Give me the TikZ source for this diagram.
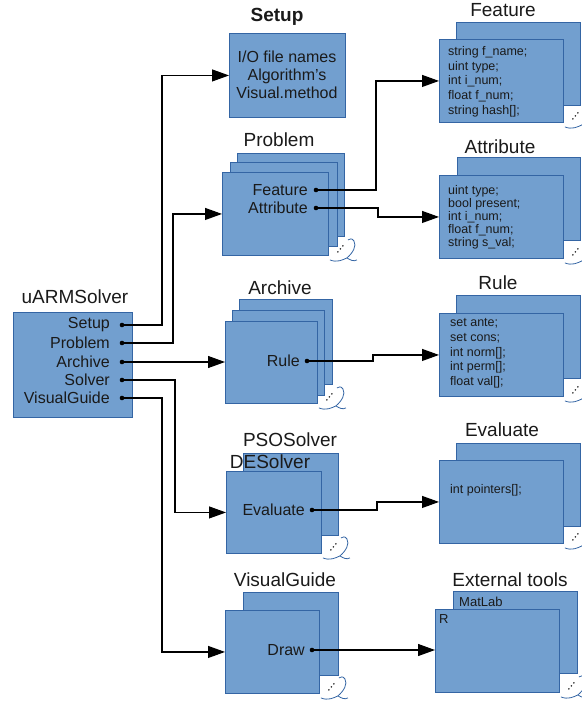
\documentclass[tikz,border=0pt]{standalone}
\usepackage{fontspec}
\setmainfont{Liberation Sans}
\usetikzlibrary{arrows.meta}
\definecolor{fillb}{HTML}{729FCF}
\definecolor{lineb}{HTML}{3465A4}
\definecolor{txt}{HTML}{1A1A1A}
\tikzset{
  box/.style={draw=lineb, fill=fillb, line width=0.9pt, inner sep=0pt, anchor=north west},
  ttl/.style={font=\fontsize{19}{22}\selectfont, text=txt, inner sep=0pt},
  lab/.style={font=\fontsize{16}{18}\selectfont, text=txt, anchor=east, inner sep=0pt},
  mid/.style={font=\fontsize{16}{18}\selectfont, text=txt, align=center, inner sep=0pt},
  small/.style={font=\fontsize{12.5}{14.7}\selectfont, text=txt, align=left, anchor=west, inner sep=0pt},
  smalltight/.style={font=\fontsize{12.5}{13}\selectfont, text=txt, align=left, anchor=west, inner sep=0pt},
  dotn/.style={circle, fill=black, inner sep=0pt, minimum size=4.6pt},
  conn/.style={line width=1.1pt, -{Triangle[length=17pt,width=12pt]}},
  curl/.pic={
    \fill[black!85] (9,-4) circle (0.9) (11.5,-7) circle (0.9) (14,-10) circle (0.9);
    \draw[lineb, line width=0.8pt] (1,4) .. controls (8,7) and (14,4) .. (18,2)
      .. controls (21,4) and (25,6) .. (28,4);
    \draw[lineb, line width=0.8pt] (18,2) .. controls (24,-3) and (28,-10) .. (25,-15)
      .. controls (23,-18) and (21,-17) .. (19,-16);
  }
}
\begin{document}
\begin{tikzpicture}[x=1pt,y=-1pt]
\useasboundingbox (0,0) rectangle (581,704);

% ---------- uARMSolver ----------
\node[ttl] (tMain) at (75,297) {uARMSolver};
\node[box, minimum width=119pt, minimum height=105pt] (mainB) at (13,312) {};
\node[dotn] (dSetup) at (122,325) {};
\node[dotn] (dProb) at (122,343) {};
\node[dotn] (dArch) at (122,362) {};
\node[dotn] (dSolv) at (122,380) {};
\node[dotn] (dVis) at (122,398) {};
\node[lab] (lSetup) at (110,325) {Setup};
\node[lab] (lProb) at (110,343) {Problem};
\node[lab] (lArch) at (110,362) {Archive};
\node[lab] (lSolv) at (110,380) {Solver};
\node[lab] (lVis) at (110,398) {VisualGuide};

% ---------- Setup ----------
\node[ttl, font=\fontsize{19}{22}\selectfont\bfseries] (tSetup) at (277,17) {Setup};
\node[box, minimum width=116pt, minimum height=84pt] (setupB) at (229,33) {};
\node[mid] (setupTxt) at (287,75) {I/O file names\\Algorithm's\\Visual.method};

% ---------- Problem ----------
\node[ttl] (tProb) at (279,140) {Problem};
\node[box, minimum width=107pt, minimum height=83pt] (probB) at (237,153) {};
\node[box, minimum width=107pt, minimum height=84pt] (probM) at (230,162) {};
\node[box, minimum width=106pt, minimum height=83pt] (probF) at (222,172) {};
\pic at (probF.south east) {curl};
\node[dotn] (dFeat) at (316,190) {};
\node[dotn] (dAttr) at (316,208) {};
\node[lab] (lFeat) at (308,190) {Feature};
\node[lab] (lAttr) at (308,208) {Attribute};

% ---------- Archive ----------
\node[ttl] (tArch) at (280,288) {Archive};
\node[box, minimum width=93pt, minimum height=85pt] (archB) at (239,299) {};
\node[box, minimum width=92pt, minimum height=85pt] (archM) at (232,310) {};
\node[box, minimum width=92pt, minimum height=82pt] (archF) at (225,321) {};
\pic at (archF.south east) {curl};
\node[dotn] (dRule) at (307,361) {};
\node[lab] (lRule) at (300,361) {Rule};

% ---------- Solvers ----------
\node[ttl] (tPSO) at (290,440) {PSOSolver};
\node[box, minimum width=95pt, minimum height=82pt] (solB) at (243,453) {};
\node[ttl] (tDE) at (270,462) {DESolver};
\node[box, minimum width=95pt, minimum height=82pt] (solF) at (226,471) {};
\pic at (solF.south east) {curl};
\node[dotn] (dEval) at (312,510) {};
\node[lab] (lEval) at (305,510) {Evaluate};

% ---------- VisualGuide ----------
\node[ttl] (tVis) at (285,580) {VisualGuide};
\node[box, minimum width=95pt, minimum height=83pt] (visB) at (243,592) {};
\node[box, minimum width=94pt, minimum height=83pt] (visF) at (225,610) {};
\pic at (visF.south east) {curl};
\node[dotn] (dDraw) at (312,650) {};
\node[lab] (lDraw) at (305,650) {Draw};

% ---------- Feature ----------
\node[ttl] (tFeat) at (503,10) {Feature};
\node[box, minimum width=124pt, minimum height=83pt] (featB) at (456,22) {};
\node[box, minimum width=124pt, minimum height=83pt] (featF) at (439,39) {};
\pic at (featF.south east) {curl};
\node[small] (featTxt) at (448,81.5) {string f\_name;\\uint type;\\int i\_num;\\float f\_num;\\string hash[];};

% ---------- Attribute ----------
\node[ttl] (tAttr) at (500,147) {Attribute};
\node[box, minimum width=123pt, minimum height=83pt] (attrB) at (457,157) {};
\node[box, minimum width=124pt, minimum height=83pt] (attrF) at (439,175) {};
\pic at (attrF.south east) {curl};
\node[smalltight] (attrTxt) at (448,217) {uint type;\\bool present;\\int i\_num;\\float f\_num;\\string s\_val;};

% ---------- Rule ----------
\node[ttl] (tRule) at (498,283) {Rule};
\node[box, minimum width=124pt, minimum height=83pt] (ruleB) at (456,295) {};
\node[box, minimum width=124pt, minimum height=83pt] (ruleF) at (439,313) {};
\pic at (ruleF.south east) {curl};
\node[small] (ruleTxt) at (450,353.5) {set ante;\\set cons;\\int norm[];\\int perm[];\\float val[];};

% ---------- Evaluate ----------
\node[ttl] (tEval) at (502,430) {Evaluate};
\node[box, minimum width=124pt, minimum height=83pt] (evalB) at (456,443) {};
\node[box, minimum width=124pt, minimum height=83pt] (evalF) at (439,460) {};
\pic at (evalF.south east) {curl};
\node[small] (evalTxt) at (450,490) {int pointers[];};

% ---------- External tools ----------
\node[ttl] (tExt) at (510,580) {External tools};
\node[box, minimum width=124pt, minimum height=82pt] (extB) at (453,591) {};
\node[small, font=\fontsize{13}{15}\selectfont] (tMat) at (459,602) {MatLab};
\node[box, minimum width=124pt, minimum height=83pt] (extF) at (435,609) {};
\pic at (extF.south east) {curl};
\node[small, font=\fontsize{13}{15}\selectfont] (tR) at (439,619) {R};

% ---------- connectors ----------
\draw[conn] (dSetup.center) -- ++(40,0) |- (setupB.west);
\draw[conn] (dProb.center) -- ++(51,0) |- (probF.west);
\draw[conn] (dArch.center) -- (dArch.center -| archF.west);
\draw[conn] (dSolv.center) -- ++(53,0) |- (solF.west);
\draw[conn] (dVis.center) -- ++(40,0) |- (visF.west);
\draw[conn] (dFeat.center) -- ++(60,0) |- (featF.west);
\draw[conn] (dAttr.center) -- ++(62,0) |- (attrF.west);
\draw[conn] (dRule.center) -- ++(66,0) |- (ruleF.west);
\draw[conn] (dEval.center) -- ++(65,0) |- (evalF.west);
\draw[conn] (dDraw.center) -- (dDraw.center -| extF.west);
\end{tikzpicture}
\end{document}
